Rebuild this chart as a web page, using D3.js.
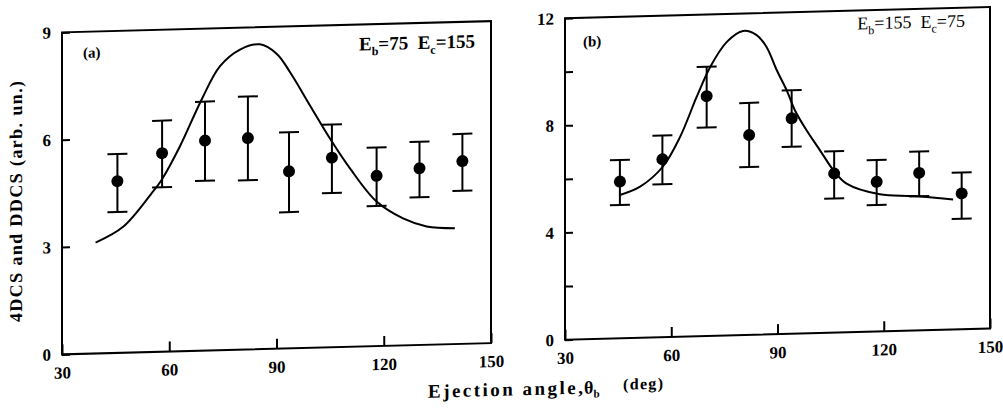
<!DOCTYPE html>
<html>
<head>
<meta charset="utf-8">
<script src="https://cdn.jsdelivr.net/npm/d3@7"></script>
<style>
  body { margin: 0; background: #fff; }
  svg text { font-family: "Liberation Serif", "DejaVu Serif", serif; fill: #000; }
</style>
</head>
<body>
<div id="plot"></div>
<script>
// values
let xTicks = [30, 60, 90, 120, 150];
let yTicksA = [0, 3, 6, 9];
let yTicksB = [0, 2, 4, 6, 8, 10, 12];
let yLabelsB = [0, 4, 8, 12];

// (a) Eb=75 Ec=155
let anglesA = [45.5, 58, 70, 82, 93.5, 105.5, 118, 130, 142];
let valuesA = [4.80, 5.55, 5.87, 5.91, 4.95, 5.30, 4.76, 4.94, 5.11];
let lowA    = [3.94, 4.60, 4.75, 4.73, 3.81, 4.31, 3.92, 4.13, 4.28];
let highA   = [5.56, 6.46, 6.96, 7.07, 6.04, 6.23, 5.55, 5.68, 5.87];
let curveAngleA = [39.4, 47.1, 55.1, 57.9, 63, 69.1, 74.2, 79.8, 85.4, 90.1, 93.8, 99.4, 105, 110.6, 118, 125.4, 132, 139.9];
let curveValueA = [3.10, 3.52, 4.44, 4.81, 5.73, 7.03, 7.94, 8.39, 8.52, 8.24, 7.72, 6.77, 5.83, 4.98, 4.04, 3.55, 3.31, 3.24];

// (b) Eb=155 Ec=75
let anglesB = [45.5, 57.5, 70, 82, 94, 106, 118, 130, 142];
let valuesB = [5.85, 6.64, 8.95, 7.46, 8.04, 5.94, 5.59, 5.88, 5.07];
let lowB    = [4.97, 5.71, 7.78, 6.27, 6.98, 5.01, 4.72, 5.01, 4.13];
let highB   = [6.65, 7.53, 10.05, 8.66, 9.09, 6.77, 6.40, 6.68, 5.85];
let curveAngleB = [45.5, 51.2, 57.6, 62.5, 67.2, 71, 75.7, 80.3, 84.1, 86.9, 89.8, 92.6, 94.9, 98.2, 102, 105.8, 109.5, 118.9, 128.3, 139.6];
let curveValueB = [5.35, 5.64, 6.36, 7.46, 8.94, 10.04, 10.96, 11.35, 11.18, 10.73, 9.85, 9.09, 8.34, 7.58, 6.82, 6.06, 5.55, 5.12, 5.02, 4.85];

let svg = d3.select("#plot")
  .append("svg")
    .attr("width", 1003)
    .attr("height", 408);

// the scanned page is slightly tilted
let page = svg.append("g").attr("transform", "skewY(-1.5)");

drawPanel({
  left: 62, right: 491, top: 34, bottom: 356, yMax: 9,
  yTicks: yTicksA, yLabels: yTicksA,
  angles: anglesA, values: valuesA, low: lowA, high: highA,
  curveAngles: curveAngleA, curveValues: curveValueA,
  tag: "(a)", tagX: 83, tagY: 60,
  sub1: "b", v1: "75", sub2: "c", v2: "155", annX: 475, annY: 60, annWeight: "bold", annSize: 19
});

drawPanel({
  left: 565, right: 990, top: 33, bottom: 354.5, yMax: 12,
  yTicks: yTicksB, yLabels: yLabelsB,
  angles: anglesB, values: valuesB, low: lowB, high: highB,
  curveAngles: curveAngleB, curveValues: curveValueB,
  tag: "(b)", tagX: 583, tagY: 62,
  sub1: "b", v1: "155", sub2: "c", v2: "75", annX: 965, annY: 52, annWeight: "normal", annSize: 18
});

// y title
page.append("text")
  .attr("transform", "translate(16,202) rotate(-90)")
  .attr("text-anchor", "middle")
  .attr("dy", "0.35em")
  .attr("textLength", 241)
  .style("font-size", "18px")
  .style("font-weight", "bold")
  .text("4DCS and DDCS (arb. un.)");

// x title
page.append("text")
  .attr("x", 428).attr("y", 409)
  .attr("textLength", 155)
  .style("font-size", "19px").style("font-weight", "bold")
  .text("Ejection angle,");
let th = page.append("text")
  .attr("x", 584).attr("y", 409)
  .style("font-size", "18px").style("font-weight", "bold");
th.append("tspan").text("\u03b8");
th.append("tspan").attr("dy", 4).style("font-size", "11px").text("b");
page.append("text")
  .attr("x", 623).attr("y", 406)
  .attr("textLength", 40)
  .style("font-size", "16px").style("font-weight", "bold")
  .text("(deg)");

function drawPanel(p) {
  let g = page.append("g");

  let x = d3.scaleLinear().domain([30, 150]).range([p.left, p.right]);
  let y = d3.scaleLinear().domain([0, p.yMax]).range([p.bottom, p.top]);

  // x axis, ticks pointing in
  let xa = g.append("g")
    .attr("transform", "translate(0," + p.bottom + ")")
    .call(d3.axisBottom(x).tickValues(xTicks).tickSizeInner(-10).tickSizeOuter(0).tickPadding(12));
  xa.select(".domain").remove();

  // y axis
  let ya = g.append("g")
    .attr("transform", "translate(" + p.left + ",0)")
    .call(d3.axisLeft(y).tickValues(p.yTicks).tickSizeInner(-8).tickSizeOuter(0).tickPadding(11)
      .tickFormat(d => p.yLabels.includes(d) ? d : ""));
  ya.select(".domain").remove();

  g.selectAll(".tick line").attr("stroke", "#000").attr("stroke-width", 2);
  g.selectAll(".tick text")
    .style("font-family", "'Liberation Serif', serif")
    .style("font-size", "17px")
    .style("font-weight", "bold");

  // frame
  g.append("rect")
    .attr("x", p.left).attr("y", p.top)
    .attr("width", p.right - p.left).attr("height", p.bottom - p.top)
    .attr("fill", "none").attr("stroke", "#000").attr("stroke-width", 2);

  // theory curve
  let pts = p.curveAngles.map((a, i) => [a, p.curveValues[i]]);
  g.append("path")
    .datum(pts)
    .attr("fill", "none")
    .attr("stroke", "#000")
    .attr("stroke-width", 2)
    .attr("d", d3.line().x(d => x(d[0])).y(d => y(d[1])).curve(d3.curveCatmullRom.alpha(0.5)));

  // measured points with error bars
  let data = p.angles.map((a, i) => ({a: a, v: p.values[i], lo: p.low[i], hi: p.high[i]}));
  let bars = g.append("g").selectAll("g").data(data).enter().append("g");
  bars.append("line")
    .attr("x1", d => x(d.a)).attr("x2", d => x(d.a))
    .attr("y1", d => y(d.lo)).attr("y2", d => y(d.hi))
    .attr("stroke", "#000").attr("stroke-width", 2);
  bars.append("line")
    .attr("x1", d => x(d.a) - 10).attr("x2", d => x(d.a) + 10)
    .attr("y1", d => y(d.hi)).attr("y2", d => y(d.hi))
    .attr("stroke", "#000").attr("stroke-width", 2);
  bars.append("line")
    .attr("x1", d => x(d.a) - 10).attr("x2", d => x(d.a) + 10)
    .attr("y1", d => y(d.lo)).attr("y2", d => y(d.lo))
    .attr("stroke", "#000").attr("stroke-width", 2);
  bars.append("circle")
    .attr("cx", d => x(d.a)).attr("cy", d => y(d.v))
    .attr("r", 6)
    .attr("fill", "#000");

  // panel tag
  g.append("text")
    .attr("x", p.tagX).attr("y", p.tagY)
    .style("font-size", "15px").style("font-weight", "bold")
    .text(p.tag);

  // energies
  let ann = g.append("text")
    .attr("x", p.annX).attr("y", p.annY)
    .attr("text-anchor", "end")
    .style("font-size", p.annSize + "px")
    .style("font-weight", p.annWeight);
  ann.append("tspan").text("E");
  ann.append("tspan").attr("dy", 5).style("font-size", "12px").text(p.sub1);
  ann.append("tspan").attr("dy", -5).text("=" + p.v1 + "\u00a0\u00a0E");
  ann.append("tspan").attr("dy", 5).style("font-size", "12px").text(p.sub2);
  ann.append("tspan").attr("dy", -5).text("=" + p.v2);
}
</script>
</body>
</html>
